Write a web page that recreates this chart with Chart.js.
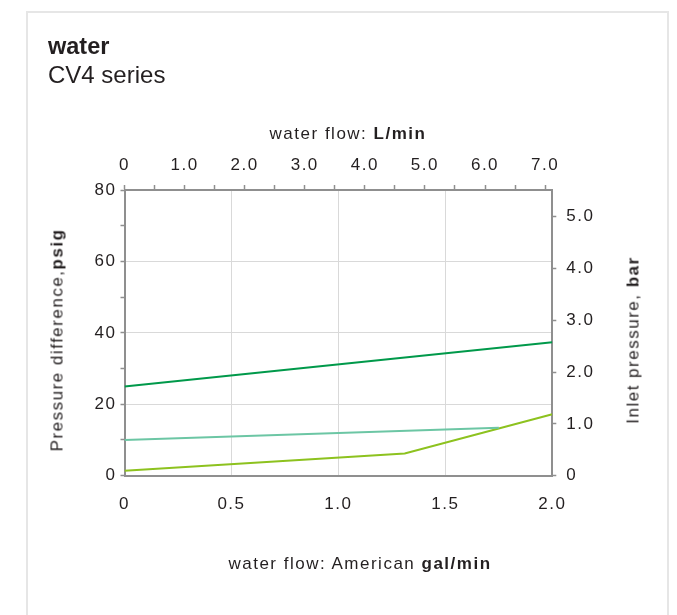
<!DOCTYPE html>
<html>
<head>
<meta charset="utf-8">
<script src="https://cdn.jsdelivr.net/npm/chart.js@4.4.1/dist/chart.umd.min.js"></script>
<style>
  html, body { margin: 0; padding: 0; background: #fff; }
  body {
    width: 677px; height: 615px; position: relative; overflow: hidden;
    font-family: "Liberation Sans", Arial, sans-serif; color: #231f20;
  }
  .card {
    position: absolute; left: 26px; top: 11px; width: 643px; height: 660px;
    border: 2px solid #e6e6e6; box-sizing: border-box;
  }
  #chart { position: absolute; left: 0; top: 0; }
  .head { position: absolute; left: 48px; white-space: nowrap; }
  .head.main { top: 35px; font-size: 23.5px; line-height: 23.5px; font-weight: bold; }
  .head.sub { top: 63px; font-size: 24px; line-height: 24px; }
  .axis-title {
    position: absolute; font-size: 17px; line-height: 17px; letter-spacing: 1.5px;
    white-space: nowrap; transform: translate(-50%, -50%);
  }
  .axis-title.vert { transform: translate(-50%, -50%) rotate(-90deg); }
</style>
</head>
<body>
<div class="card"></div>
<canvas id="chart" width="677" height="615"></canvas>
<div class="head main">water</div>
<div class="head sub">CV4 series</div>
<div class="axis-title" style="left:348px; top:133px;">water flow: <b>L/min</b></div>
<div class="axis-title" style="left:360px; top:563px;">water flow: American <b>gal/min</b></div>
<div class="axis-title vert" style="left:57px; top:340px;">Pressure difference,<b>psig</b></div>
<div class="axis-title vert" style="left:633px; top:340px;">Inlet pressure, <b>bar</b></div>

<script>
// Flow in US gal/min, pressure difference in psig
const darkFlow  = [0, 2.0];
const darkPsig  = [25, 37.4];
const tealFlow  = [0, 1.75];
const tealPsig  = [10, 13.4];
const limeFlow  = [0, 1.31, 2.0];
const limePsig  = [1.4, 6.2, 17.2];

// Axis ranges
const galRange  = [0, 2];
const literMax  = 7.12;           // top axis, L/min
const psigRange = [0, 80];
const barMax    = 80 / 14.5038;   // right axis, bar

const DARK = '#00994a', TEAL = '#6cc6a4', LIME = '#8dc21f';
const GRID = '#d9d9d9', AXIS = '#8f8f8f', INK = '#231f20';
const tickFont = { family: "'Liberation Sans', Arial, sans-serif", size: 17 };

const toPoints = (xs, ys) => xs.map((x, i) => ({ x, y: ys[i] }));
const isWhole = v => Math.abs(v - Math.round(v)) < 1e-6;
const fmt1 = v => (Math.abs(v) < 1e-9 ? '0' : Number(v).toFixed(1));
const hideAtEdges = (lo, hi) => c =>
  (c.tick && (Math.abs(c.tick.value - lo) < 1e-9 || Math.abs(c.tick.value - hi) < 1e-9)) ? 'rgba(0,0,0,0)' : GRID;

const letterSpacing = {
  id: 'letterSpacing',
  beforeDraw(chart) { chart.ctx.letterSpacing = '1.5px'; }
};

new Chart(document.getElementById('chart'), {
  type: 'line',
  data: {
    datasets: [
      { data: toPoints(darkFlow, darkPsig), borderColor: DARK },
      { data: toPoints(tealFlow, tealPsig), borderColor: TEAL },
      { data: toPoints(limeFlow, limePsig), borderColor: LIME }
    ].map(d => Object.assign(d, {
      xAxisID: 'x', yAxisID: 'y', borderWidth: 2, pointRadius: 0, tension: 0, fill: false
    }))
  },
  options: {
    responsive: false,
    devicePixelRatio: 1,
    animation: false,
    events: [],
    layout: { padding: 0 },
    plugins: { legend: { display: false }, tooltip: { enabled: false } },
    scales: {
      x: {
        type: 'linear', position: 'bottom', min: galRange[0], max: galRange[1],
        ticks: { stepSize: 0.5, padding: 18, color: INK, font: tickFont, maxRotation: 0, autoSkip: false, callback: fmt1 },
        grid: { drawTicks: false, lineWidth: 1, color: hideAtEdges(galRange[0], galRange[1]) },
        border: { color: AXIS, width: 2 },
        afterFit: s => { s.height = 615 - 475.7; }
      },
      x2: {
        type: 'linear', position: 'top', min: 0, max: literMax,
        ticks: { stepSize: 0.5, includeBounds: false, padding: 9, color: INK, font: tickFont, maxRotation: 0, autoSkip: false,
                 callback: v => (isWhole(v) ? fmt1(v) : '') },
        grid: { drawOnChartArea: false, drawTicks: true, tickLength: 5, tickColor: AXIS, tickWidth: 1.5 },
        border: { color: AXIS, width: 2 },
        afterFit: s => { s.height = 190; }
      },
      y: {
        type: 'linear', position: 'left', min: psigRange[0], max: psigRange[1],
        ticks: { stepSize: 10, padding: 4, color: INK, font: tickFont, autoSkip: false,
                 callback: v => (v % 20 === 0 ? String(v) : '') },
        grid: {
          lineWidth: 1, tickLength: 4, tickColor: AXIS, tickWidth: 1.5,
          color: c => (c.tick && c.tick.value % 20 === 0 && c.tick.value > 0 && c.tick.value < 80) ? GRID : 'rgba(0,0,0,0)'
        },
        border: { color: AXIS, width: 2 },
        afterFit: s => { s.width = 124.5; }
      },
      y2: {
        type: 'linear', position: 'right', min: 0, max: barMax,
        ticks: { stepSize: 1, includeBounds: false, padding: 10, color: INK, font: tickFont, autoSkip: false, callback: fmt1 },
        grid: { drawOnChartArea: false, tickLength: 4, tickColor: AXIS, tickWidth: 1.5 },
        border: { color: AXIS, width: 2 },
        afterFit: s => { s.width = 677 - 552.3; }
      }
    }
  },
  plugins: [letterSpacing]
});
</script>
</body>
</html>
